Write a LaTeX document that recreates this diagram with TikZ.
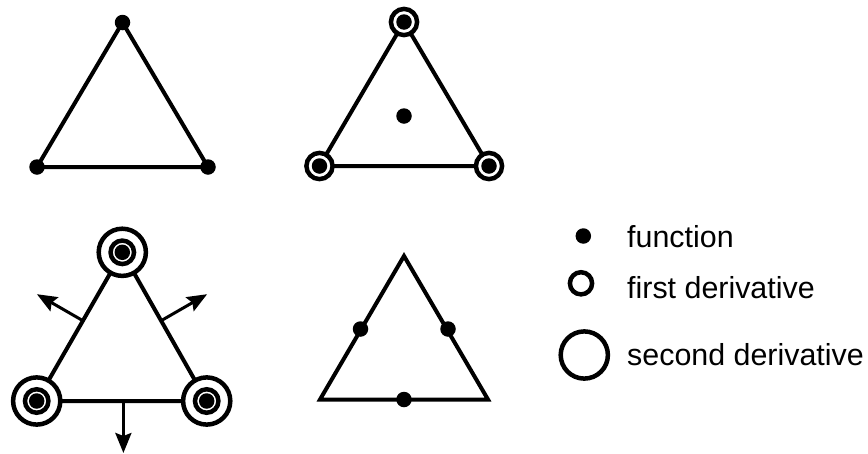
\documentclass[tikz,border=0pt]{standalone}
\usepackage{fontspec}
\setmainfont{Liberation Sans}
\usetikzlibrary{arrows.meta,calc}
\begin{document}
\begin{tikzpicture}[x=1pt,y=-1pt,
  edge/.style={line width=4pt, line join=miter},
  fdot/.style={circle, fill=black, inner sep=0pt, minimum size=15.5pt},
  ringone/.style={circle, draw=black, line width=4.5pt, fill=white, inner sep=0pt, minimum size=26.2pt},
  ringsmall/.style={circle, draw=black, line width=4.5pt, fill=white, inner sep=0pt, minimum size=23.5pt},
  ringbig/.style={circle, draw=black, line width=4.5pt, fill=white, inner sep=0pt, minimum size=47.2pt},
  normal/.style={line width=3pt, -{Stealth[length=20pt,width=16pt,inset=3pt]}},
  lbl/.style={anchor=base west, font=\fontsize{30.4pt}{36pt}\selectfont, inner sep=0pt}
]
\useasboundingbox (0,0) rectangle (868,453);

% Triangle 1: function values at vertices
\coordinate (p1a) at (122.5,22.5);
\coordinate (p1b) at (37,167);
\coordinate (p1c) at (208,167);
\draw[edge] (p1a) -- (p1b) -- (p1c) -- cycle;
\node[fdot] (d1a) at (p1a) {};
\node[fdot] (d1b) at (p1b) {};
\node[fdot] (d1c) at (p1c) {};

% Triangle 2: first derivative at vertices + centroid
\coordinate (p2a) at (404,22);
\coordinate (p2b) at (319.5,166);
\coordinate (p2c) at (489,166);
\draw[edge] (p2a) -- (p2b) -- (p2c) -- cycle;
\node[ringone] (r2a) at (p2a) {};
\node[ringone] (r2b) at (p2b) {};
\node[ringone] (r2c) at (p2c) {};
\node[fdot] (d2a) at (p2a) {};
\node[fdot] (d2b) at (p2b) {};
\node[fdot] (d2c) at (p2c) {};
\node[fdot] (d2m) at (404,116) {};

% Triangle 3: second derivatives + normal derivatives
\coordinate (p3a) at (122.3,252.3);
\coordinate (p3b) at (36.7,401);
\coordinate (p3c) at (206.7,401);
\draw[edge] (p3a) -- (p3b) -- (p3c) -- cycle;
\coordinate (m3l) at ($(p3b)!0.54!(p3a)$);
\coordinate (m3r) at ($(p3c)!0.54!(p3a)$);
\coordinate (m3b) at ($(p3b)!0.51!(p3c)$);
\coordinate (e3l) at ($(m3l)+(-46,-26.5)$);
\coordinate (e3r) at ($(m3r)+(46,-26.5)$);
\coordinate (e3b) at ($(m3b)+(0,52)$);
\draw[normal] (m3l) -- (e3l);
\draw[normal] (m3r) -- (e3r);
\draw[normal] (m3b) -- (e3b);
\foreach \v in {a,b,c}{
  \node[ringbig] (R3\v) at (p3\v) {};
  \node[ringsmall] (r3\v) at (p3\v) {};
  \node[fdot] (d3\v) at (p3\v) {};
}

% Triangle 4: function values at edge midpoints
\coordinate (p4a) at (404,256);
\coordinate (p4b) at (320,399.5);
\coordinate (p4c) at (488,399.5);
\draw[edge] (p4a) -- (p4b) -- (p4c) -- cycle;
\node[fdot] (d4l) at (360.5,329) {};
\node[fdot] (d4r) at (448,329) {};
\node[fdot] (d4b) at (404,399.5) {};

% Legend
\node[fdot] (ld1) at (583.3,236) {};
\node[ringsmall, minimum size=22.2pt] (lr1) at (581,283.3) {};
\node[ringbig] (lr2) at (584.3,355) {};
\node[lbl] (t1) at (627,247.3) {function};
\node[lbl] (t2) at (627,298.3) {first derivative};
\node[lbl] (t3) at (627,365) {second derivative};
\end{tikzpicture}
\end{document}
